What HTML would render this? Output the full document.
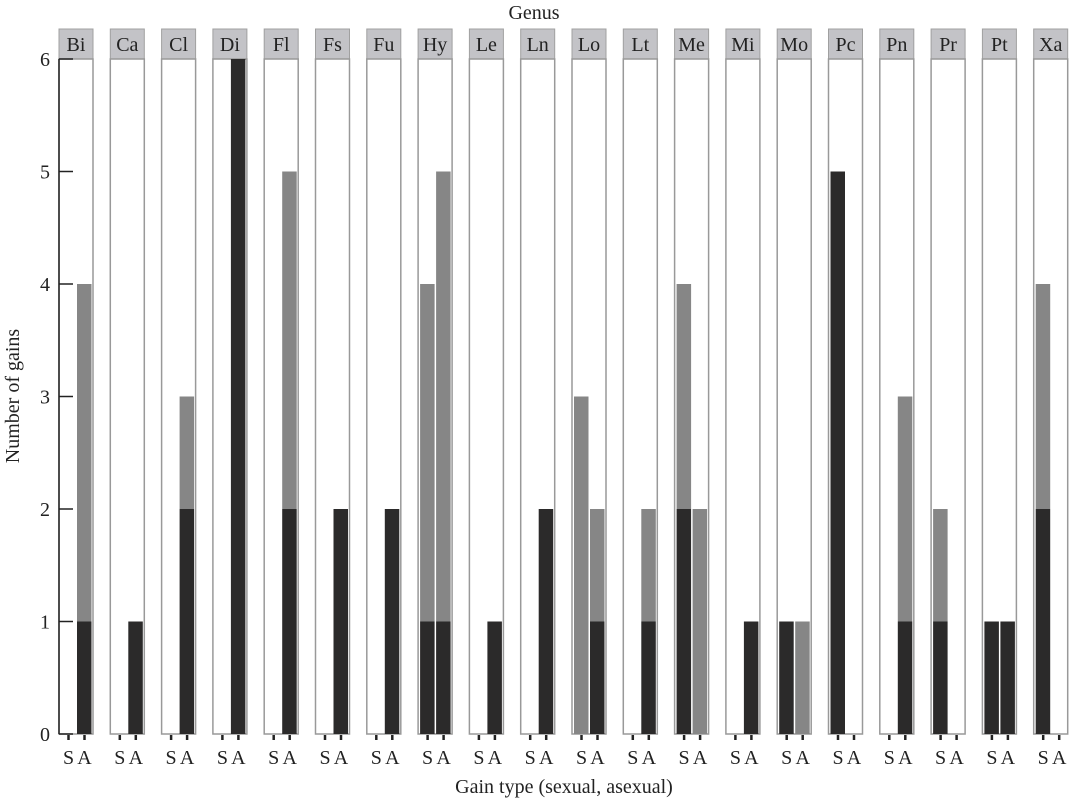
<!DOCTYPE html>
<html><head><meta charset="utf-8"><style>
body{margin:0;background:#fff}
text{font-family:"Liberation Serif",serif;fill:#222}
</style></head><body>
<svg id="chart" width="1069" height="799" xmlns="http://www.w3.org/2000/svg"></svg>
<script>
const genera=["Bi","Ca","Cl","Di","Fl","Fs","Fu","Hy","Le","Ln","Lo","Lt","Me","Mi","Mo","Pc","Pn","Pr","Pt","Xa"];
const sexDark=[0,0,0,0,0,0,0,1,0,0,0,0,2,0,1,5,0,1,1,2];
const sexGray=[0,0,0,0,0,0,0,3,0,0,3,0,2,0,0,0,0,1,0,2];
const asexDark=[1,1,2,6,2,2,2,1,1,2,1,1,0,1,0,0,1,0,1,0];
const asexGray=[3,0,1,0,3,0,0,4,0,0,1,1,2,0,1,0,2,0,0,0];
const yTicks=[0,1,2,3,4,5,6];
const NS="http://www.w3.org/2000/svg";
const svg=document.getElementById('chart');
function el(t,a,txt){const e=document.createElementNS(NS,t);for(const k in a)e.setAttribute(k,a[k]);if(txt!==undefined)e.textContent=txt;svg.appendChild(e);return e;}
const y0=734,unit=112.5,px0=59,pitch=51.3,pw=34;
const y=v=>y0-v*unit;
const t1=el('text',{x:534,y:19,'text-anchor':'middle','font-size':20},'Genus');

genera.forEach((g,i)=>{
 const x=px0+i*pitch;
 const s=el('rect',{x:x,y:29,width:pw,height:30,fill:'#c3c3c7',stroke:'#a0a0a0','stroke-width':1});
 
 const st=el('text',{x:x+pw/2,y:51,'text-anchor':'middle','font-size':20},g);
 
 const p=el('rect',{x:x,y:59,width:pw,height:y0-59,fill:'#fff',stroke:'#999','stroke-width':1.5});
 
 const bars=[[x+2,sexDark[i],sexGray[i],'S'],[x+18,asexDark[i],asexGray[i],'A']];
 bars.forEach(b=>{
  if(b[1]>0){const r=el('rect',{x:b[0],y:y(b[1]),width:14.5,height:b[1]*unit,fill:'#2b2a2a'});
   }
  if(b[2]>0){const r=el('rect',{x:b[0],y:y(b[1]+b[2]),width:14.5,height:b[2]*unit,fill:'#868686'});
   }
  const tk=el('line',{x1:b[0]+7.5,x2:b[0]+7.5,y1:y0+1,y2:y0+6,stroke:'#222','stroke-width':2.5});
  
  const tl=el('text',{x:b[0]+7.5,y:764,'text-anchor':'middle','font-size':20},b[3]);
  
 });
});
const ax=el('line',{x1:px0,x2:px0,y1:59,y2:y0,stroke:'#222','stroke-width':1.5});

yTicks.forEach(v=>{
 const l=el('line',{x1:px0,x2:px0+14,y1:y(v),y2:y(v),stroke:'#222','stroke-width':1.5});
 
 const t=el('text',{x:45,y:y(v)+7,'text-anchor':'middle','font-size':20},v);
 
});
const yt=el('text',{x:0,y:0,'text-anchor':'middle','font-size':20,transform:'translate(19,396) rotate(-90)'},'Number of gains');

const xt=el('text',{x:564,y:793,'text-anchor':'middle','font-size':20},'Gain type (sexual, asexual)');

</script>
</body></html>
